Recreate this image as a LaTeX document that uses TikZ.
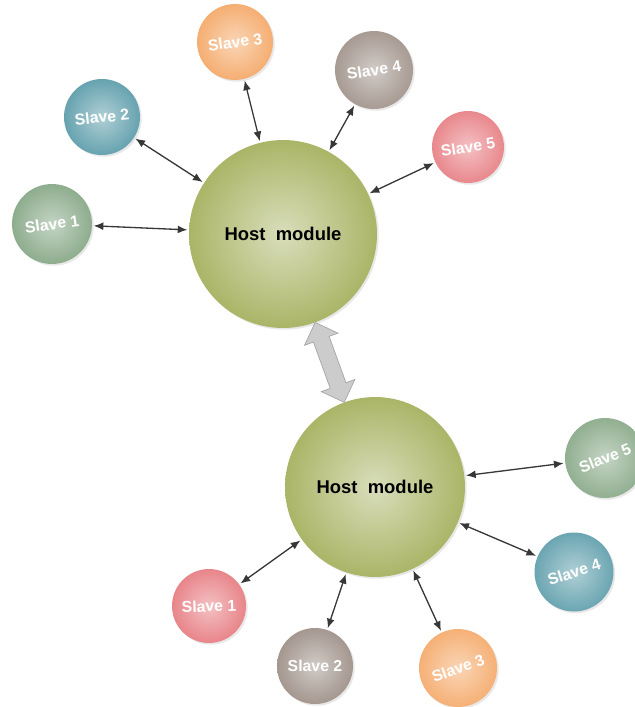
\documentclass[tikz,border=0pt]{standalone}
\usepackage{fontspec}
\setmainfont{Liberation Sans}
\usepackage{xcolor}
\usetikzlibrary{shapes.arrows,shadows,arrows.meta}

\definecolor{hostc}{RGB}{146,160,60}
\definecolor{sgreen}{RGB}{108,148,108}
\definecolor{steal}{RGB}{58,136,152}
\definecolor{sorange}{RGB}{242,150,72}
\definecolor{staupe}{RGB}{140,124,114}
\definecolor{spink}{RGB}{226,100,106}
\definecolor{linkc}{RGB}{55,55,55}

% radial fill that fades out over the whole disc
\makeatletter
\pgfdeclareradialshading[tikz@radial@inner,tikz@radial@outer]{sphere}{\pgfpointorigin}{%
  color(0bp)=(tikz@radial@inner);
  color(38bp)=(tikz@radial@outer);
  color(50bp)=(tikz@radial@outer)}
\makeatother

\begin{document}
\begin{tikzpicture}[
x=0.02cm,y=-0.02cm,
host/.style={
  circle,
  inner sep=0pt,
  outer sep=0pt,
  minimum size=#1,
  font=\bfseries\fontsize{10.5}{12}\selectfont,
  inner color=hostc!35!white,
  outer color=hostc,
  shading=sphere,
  drop shadow={opacity=0.18,shadow xshift=1pt,shadow yshift=-1pt}
},
slave/.style={
  circle,
  inner sep=0pt,
  outer sep=0pt,
  minimum size=1.54cm,
  font=\bfseries\small,
  text=white,
  inner color=#1!40!white,
  outer color=#1,
  shading=sphere,
  drop shadow={opacity=0.18,shadow xshift=1pt,shadow yshift=-1pt}
},
link/.style={
  {Latex[length=5.5pt,width=4.5pt]}-{Latex[length=5.5pt,width=4.5pt]},
  draw=linkc,
  line width=0.75pt,
  shorten <=1pt,
  shorten >=1pt
},
bigarrow/.style={
  double arrow,
  draw=gray!70,
  fill=gray!40,
  inner xsep=0pt,
  inner ysep=0.16cm,
  minimum height=1.7cm,
  double arrow head extend=0.19cm
}
]
\useasboundingbox (0,0) rectangle (635,707);

% upper group
\node[host=3.76cm] (h1) at (283,234) {Host\ \ module};
\node[slave=sgreen,minimum size=1.6cm,rotate=8] (u1) at (52,224) {Slave 1};
\node[slave=steal,minimum size=1.52cm,rotate=6] (u2) at (102,117) {Slave 2};
\node[slave=sorange,minimum size=1.52cm,rotate=8] (u3) at (235,42) {Slave 3};
\node[slave=staupe,minimum size=1.56cm,rotate=9] (u4) at (374,70) {Slave 4};
\node[slave=spink,minimum size=1.44cm,rotate=9] (u5) at (468,147) {Slave 5};

% lower group
\node[host=3.6cm] (h2) at (375,487) {Host\ \ module};
\node[slave=spink,minimum size=1.48cm,rotate=2] (d1) at (209,606) {Slave 1};
\node[slave=staupe,minimum size=1.52cm] (d2) at (315,666) {Slave 2};
\node[slave=sorange,minimum size=1.56cm,rotate=20] (d3) at (458,668) {Slave 3};
\node[slave=steal,minimum size=1.58cm,rotate=18] (d4) at (574,572) {Slave 4};
\node[slave=sgreen,minimum size=1.6cm,rotate=22] (d5) at (605,458) {Slave 5};

\foreach \s in {u1,u2,u3,u4,u5}
  \draw[link] (\s) -- (h1);
\foreach \s in {d1,d2,d3,d4,d5}
  \draw[link] (\s) -- (h2);

\path (h1) -- node[sloped,bigarrow] (hh) {} (h2);
\end{tikzpicture}
\end{document}
